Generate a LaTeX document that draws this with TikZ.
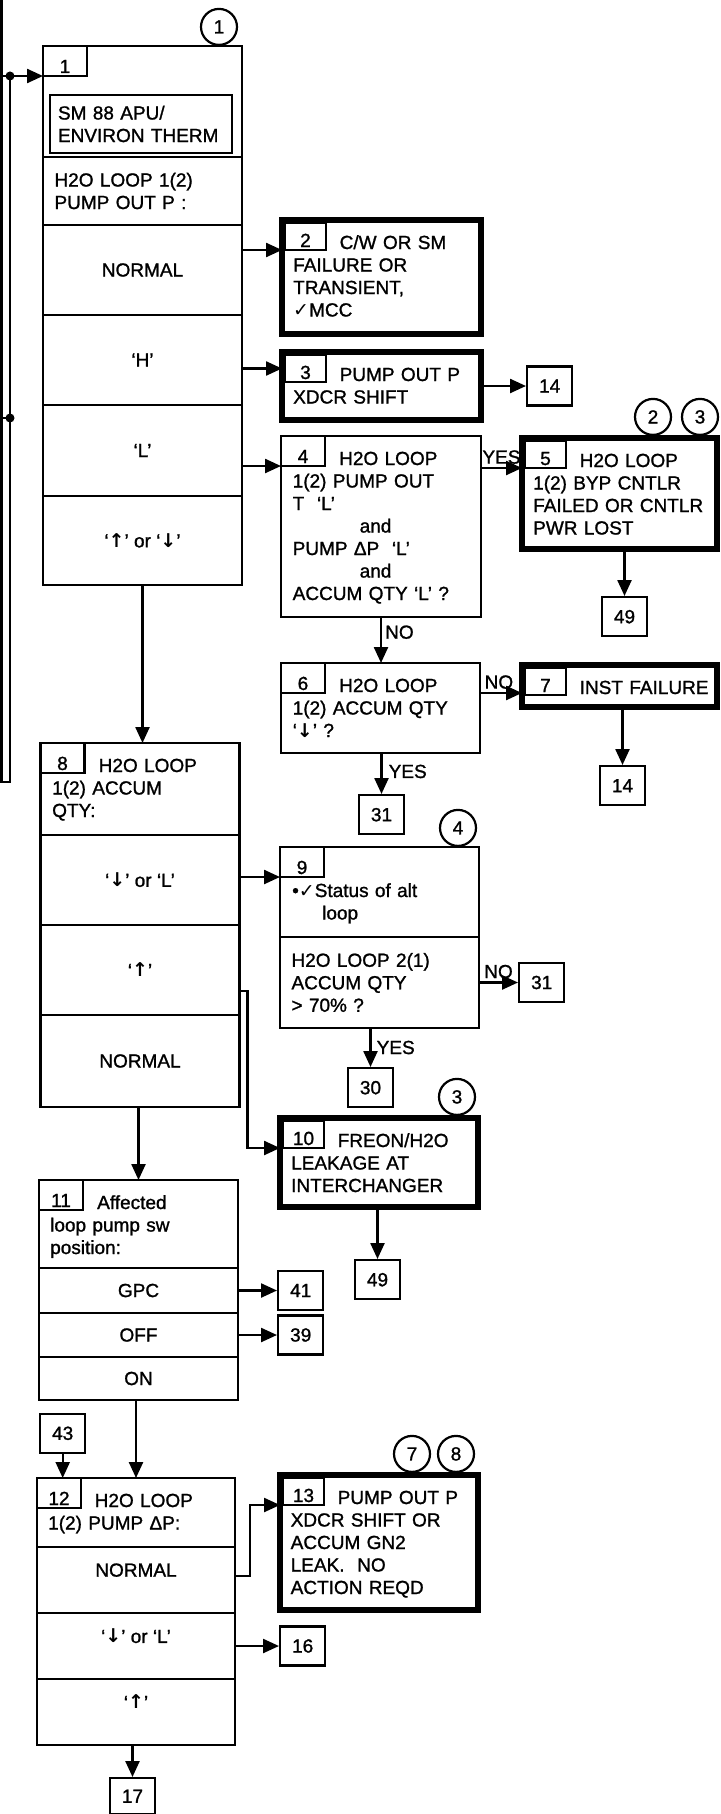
\documentclass[tikz,border=0pt]{standalone}
\usepackage{fontspec}
\setmainfont{Liberation Sans}[RawFeature={embolden=1.2}]
\newfontfamily\dejavu{DejaVu Sans}
\usetikzlibrary{arrows.meta,positioning,calc}

\newcommand{\chk}{{\dejavu ✓}}
\newcommand{\upar}{{\dejavu\bfseries ↑}}
\newcommand{\dnar}{{\dejavu\bfseries ↓}}

\begin{document}
\begin{tikzpicture}[
  x=1pt, y=-1pt,
  font=\fontsize{19pt}{22.5pt}\selectfont,
  checkbox/.style={
    draw,
    line width=2.4pt,
    inner sep=0pt,
    outer sep=0pt,
    minimum width=199pt,
    anchor=north west
  },
  rowbox/.style={
    checkbox,
    anchor=north,
    align=center
  },
  rowboxtop/.style={
    rowbox,
    text depth=20pt
  },
  headbox/.style={
    checkbox,
    anchor=north,
    text width=176pt,
    inner xsep=11.5pt,
    align=left
  },
  causebox/.style={
    checkbox,
    line width=6pt
  },
  tabnum/.style={
    draw,
    line width=2.2pt,
    anchor=north west,
    inner sep=0pt,
    outer sep=0pt,
    minimum width=44pt,
    minimum height=30pt,
    text height=27pt,
    text depth=3pt
  },
  tabnumheavy/.style={
    tabnum,
    minimum width=41pt,
    minimum height=27pt,
    text height=24pt
  },
  boxtext/.style={
    anchor=base west,
    inner sep=0pt,
    text width=190pt,
    align=left
  },
  gotobox/.style={
    draw,
    line width=2.4pt,
    inner sep=0pt,
    minimum width=45pt,
    minimum height=39pt
  },
  notecircle/.style={
    circle,
    draw,
    line width=2.2pt,
    inner sep=0pt,
    minimum size=36pt,
    anchor=south
  },
  flowarrow/.style={
    -{Triangle[length=16pt,width=14pt]},
    line width=2.4pt
  },
  flowline/.style={
    line width=2.4pt
  },
  answer/.style={
    inner sep=3pt
  }
]

  \useasboundingbox (0,0) rectangle (720,1814);

  % --- BLOCK 1: Pump out P ---
  \node[checkbox, minimum height=111pt] (b1) at (43,46) {};
  \node[tabnum] (t1) at (b1.north west) {1};
  \node[draw, line width=2pt, anchor=north west, inner sep=8pt, text width=166pt, minimum height=58pt, align=left] (sm88) at ([xshift=6pt,yshift=-48pt]b1.north west) {SM 88 APU/\\ENVIRON THERM};
  \node[headbox, below=0pt of b1, minimum height=68pt] (b1q) {H2O LOOP 1(2)\\PUMP OUT P :};
  \node[rowbox, below=0pt of b1q, minimum height=90pt] (b1n) {NORMAL};
  \node[rowbox, below=0pt of b1n, minimum height=90pt] (b1h) {‘H’};
  \node[rowbox, below=0pt of b1h, minimum height=91pt] (b1l) {‘L’};
  \node[rowbox, below=0pt of b1l, minimum height=89pt] (b1u) {‘\upar’ or ‘\dnar’};
  \node[notecircle] (n1) at ([xshift=-23pt]b1.north east) {1};

  % --- RIGHT COLUMN: Blocks 2 to 7 ---
  \node[causebox, minimum height=114pt] (b2) at (282,220) {};
  \node[tabnumheavy] (t2) at ([xshift=3pt,yshift=-3pt]b2.north west) {2};
  \node[boxtext] (x2) at ([xshift=11pt,yshift=-29pt]b2.north west) {\hspace*{46.5pt}C/W OR SM\\FAILURE OR\\TRANSIENT,\\\chk MCC};

  \node[causebox, minimum height=68pt] (b3) at (282,352) {};
  \node[tabnumheavy] (t3) at ([xshift=3pt,yshift=-3pt]b3.north west) {3};
  \node[boxtext] (x3) at ([xshift=11pt,yshift=-29pt]b3.north west) {\hspace*{46.5pt}PUMP OUT P\\XDCR SHIFT};
  \node[gotobox, right=45pt of b3] (g14a) {14};

  \node[checkbox, minimum width=200pt, minimum height=181pt] (b4) at (281,436) {};
  \node[tabnum] (t4) at (b4.north west) {4};
  \node[boxtext] (x4) at ([xshift=11.5pt,yshift=-29pt]b4.north west) {\hspace*{46.5pt}H2O LOOP\\1(2) PUMP OUT\\T~~‘L’\\\hspace*{67pt}and\\PUMP ΔP~~‘L’\\\hspace*{67pt}and\\ACCUM QTY ‘L’ ?};

  \node[causebox, minimum width=195pt, minimum height=111pt] (b5) at (522,438) {};
  \node[tabnumheavy] (t5) at ([xshift=3pt,yshift=-3pt]b5.north west) {5};
  \node[boxtext] (x5) at ([xshift=11pt,yshift=-29pt]b5.north west) {\hspace*{46.5pt}H2O LOOP\\1(2) BYP CNTLR\\FAILED OR CNTLR\\PWR LOST};
  \node[notecircle] (n3a) at ([xshift=-17pt,yshift=2pt]b5.north east) {3};
  \node[notecircle] (n2) at ([xshift=-64pt,yshift=2pt]b5.north east) {2};
  \node[gotobox, below=47pt of b5, xshift=5pt] (g49a) {49};

  \node[checkbox, minimum height=90pt] (b6) at (281,663) {};
  \node[tabnum] (t6) at (b6.north west) {6};
  \node[boxtext] (x6) at ([xshift=11.5pt,yshift=-29pt]b6.north west) {\hspace*{46.5pt}H2O LOOP\\1(2) ACCUM QTY\\‘\dnar’ ?};
  \node[gotobox, below=41pt of b6, xshift=1pt] (g31a) {31};

  \node[causebox, minimum width=195pt, minimum height=42pt] (b7) at (522,665) {};
  \node[tabnumheavy] (t7) at ([xshift=3pt,yshift=-3pt]b7.north west) {7};
  \node[boxtext] (x7) at ([xshift=11pt,yshift=-29pt]b7.north west) {\hspace*{46.5pt}INST FAILURE};
  \node[gotobox, below=58pt of b7, xshift=3pt] (g14b) {14};

  % --- BLOCK 8: Accum qty ---
  \node[checkbox, minimum height=92pt] (b8) at (40.5,743) {};
  \node[tabnum] (t8) at (b8.north west) {8};
  \node[boxtext] (x8) at ([xshift=11.5pt,yshift=-29pt]b8.north west) {\hspace*{46.5pt}H2O LOOP\\1(2) ACCUM\\QTY:};
  \node[rowbox, below=0pt of b8, minimum height=90pt] (b8d) {‘\dnar’ or ‘L’};
  \node[rowbox, below=0pt of b8d, minimum height=90pt] (b8u) {‘\upar’};
  \node[rowbox, below=0pt of b8u, minimum height=92pt] (b8n) {NORMAL};

  % --- BLOCKS 9 and 10 ---
  \node[checkbox, minimum height=90pt] (b9) at (280,847) {};
  \node[tabnum] (t9) at (b9.north west) {9};
  \node[boxtext] (x9) at ([xshift=12pt,yshift=-50pt]b9.north west) {•\chk Status of alt\\\hspace*{30pt}loop};
  \node[headbox, below=0pt of b9, minimum height=91pt] (b9q) {H2O LOOP 2(1)\\ACCUM QTY\\> 70\% ?};
  \node[notecircle] (n4) at ([xshift=-21pt]b9.north east) {4};
  \node[gotobox, right=39pt of b9q] (g31b) {31};
  \node[gotobox, below=39pt of b9q, xshift=-9pt] (g30) {30};

  \node[causebox, minimum width=198pt, minimum height=89pt] (b10) at (280,1118) {};
  \node[tabnumheavy] (t10) at ([xshift=3pt,yshift=-3pt]b10.north west) {10};
  \node[boxtext] (x10) at ([xshift=11pt,yshift=-29pt]b10.north west) {\hspace*{46.5pt}FREON/H2O\\LEAKAGE AT\\INTERCHANGER};
  \node[notecircle] (n3b) at ([xshift=-21pt,yshift=2pt]b10.north east) {3};
  \node[gotobox, below=52pt of b10, xshift=-1.5pt] (g49b) {49};

  % --- BLOCK 11: Pump sw position ---
  \node[checkbox, minimum height=88pt] (b11) at (39,1180) {};
  \node[tabnum] (t11) at (b11.north west) {11};
  \node[boxtext] (x11) at ([xshift=11pt,yshift=-29pt]b11.north west) {\hspace*{47pt}Affected\\loop pump sw\\position:};
  \node[rowbox, below=0pt of b11, minimum height=45pt] (b11g) {GPC};
  \node[rowbox, below=0pt of b11g, minimum height=44pt] (b11o) {OFF};
  \node[rowbox, below=0pt of b11o, minimum height=43pt] (b11on) {ON};
  \node[gotobox, right=39pt of b11g] (g41) {41};
  \node[gotobox, right=39pt of b11o] (g39) {39};

  % --- BLOCKS 12 and 13: Pump delta P ---
  \node[checkbox, minimum width=198pt, minimum height=69pt] (b12) at (37,1478) {};
  \node[tabnum] (t12) at (b12.north west) {12};
  \node[boxtext] (x12) at ([xshift=11pt,yshift=-29pt]b12.north west) {\hspace*{46.5pt}H2O LOOP\\1(2) PUMP ΔP:};
  \node[rowboxtop, minimum width=198pt, below=0pt of b12, minimum height=66pt] (b12n) {NORMAL};
  \node[rowboxtop, minimum width=198pt, below=0pt of b12n, minimum height=66pt] (b12d) {‘\dnar’ or ‘L’};
  \node[rowboxtop, minimum width=198pt, below=0pt of b12d, minimum height=66pt] (b12u) {‘\upar’};
  \node[gotobox, above=24pt of b12.north west, anchor=south west, xshift=2pt] (g43) {43};
  \node[gotobox, right=44pt of b12d] (g16) {16};
  \node[gotobox, minimum height=36pt, below=32pt of b12u, xshift=-3.5pt] (g17) {17};

  \node[causebox, minimum width=198pt, minimum height=135pt] (b13) at (280,1475) {};
  \node[tabnumheavy] (t13) at ([xshift=3pt,yshift=-3pt]b13.north west) {13};
  \node[boxtext] (x13) at ([xshift=10.5pt,yshift=-29pt]b13.north west) {\hspace*{47pt}PUMP OUT P\\XDCR SHIFT OR\\ACCUM GN2\\LEAK.~~NO\\ACTION REQD};
  \node[notecircle] (n8) at ([xshift=-22pt,yshift=2pt]b13.north east) {8};
  \node[notecircle] (n7) at ([xshift=-66pt,yshift=2pt]b13.north east) {7};

  % Off-page feed lines on the left
  \coordinate (feedtop) at (1.5,0);
  \coordinate (feedbot) at (1.5,782);
  \coordinate (loopbot) at (10,782);
  \coordinate (feedin) at (0,76);
  \coordinate (tapone) at (10,76);
  \coordinate (feedmid) at (0,418);
  \coordinate (taptwo) at (10,418);
  \draw[flowline] (feedtop) -- (feedbot) -- (loopbot) -- (tapone);
  \draw[flowline] (feedmid) -- (taptwo);
  \fill (tapone) circle (4.5pt);
  \fill (taptwo) circle (4.5pt);

  % Connecting Arrows
  \draw[flowarrow] (feedin) -- (b1.west |- t1.south);
  \draw[flowarrow] (b1n.east |- t2.south) -- (b2.west |- t2.south);
  \draw[flowarrow] (b1h.east |- t3.west) -- (b3.west |- t3.west);
  \draw[flowarrow] (b1l.east |- t4.south) -- (b4.west |- t4.south);
  \draw[flowarrow] (b3.east |- g14a) -- (g14a);
  \draw[flowarrow] (b4.east |- t5.south) -- node[answer, above] (a45) {YES} (b5.west |- t5.south);
  \draw[flowarrow] (b5.south -| g49a) -- (g49a);
  \draw[flowarrow] (b4.south) -- node[answer, right, pos=0.33] (a46) {NO} (b4.south |- b6.north);
  \draw[flowarrow] (b6.east |- t6.south) -- node[answer, above, pos=0.45] (a67) {NO} (b7.west |- t6.south);
  \draw[flowarrow] (b7.south -| g14b) -- (g14b);
  \draw[flowarrow] (b6.south -| g31a) -- node[answer, right, pos=0.45, xshift=3pt] (a631) {YES} (g31a);
  \draw[flowarrow] (b1u.south) -- (b1u.south |- b8.north);
  \draw[flowarrow] (b8d.east |- t9.south) -- (b9.west |- t9.south);
  \draw[flowarrow] ([yshift=-21pt]b8u.east) -- ++(8,0) |- (b10.west |- t10.south);
  \draw[flowarrow] (b9q.east |- g31b) -- node[answer, above] (a931) {NO} (g31b);
  \draw[flowarrow] (b9q.south -| g30) -- node[answer, right, xshift=2pt] (a930) {YES} (g30);
  \draw[flowarrow] (b10.south -| g49b) -- (g49b);
  \draw[flowarrow] (b8n.south -| b11.north) -- (b11.north);
  \draw[flowarrow] (b11g.east |- g41) -- (g41);
  \draw[flowarrow] (b11o.east |- g39) -- (g39);
  \draw[flowarrow] (b11on.south -| b12.north) -- (b12.north);
  \draw[flowarrow] (g43) -- (g43 |- b12.north);
  \draw[flowarrow] ([yshift=4pt]b12n.east) -- ++(15,0) |- (b13.west |- t13.south);
  \draw[flowarrow] (b12d.east |- g16) -- (g16);
  \draw[flowarrow] (b12u.south -| g17) -- (g17);

\end{tikzpicture}
\end{document}
